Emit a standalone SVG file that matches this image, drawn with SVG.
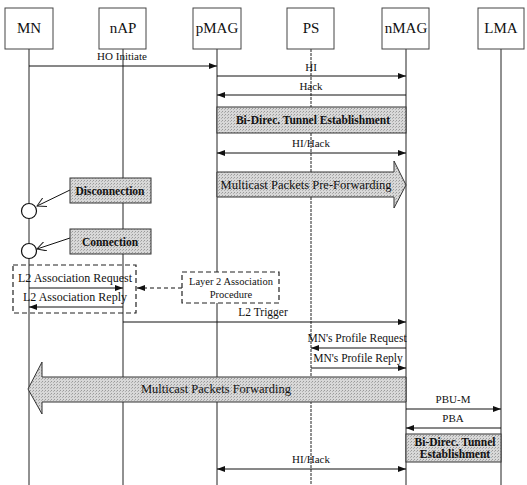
<svg xmlns="http://www.w3.org/2000/svg" width="527" height="485" viewBox="0 0 527 485">
<defs>
<marker id="ah" markerWidth="8" markerHeight="6" refX="8" refY="3" orient="auto" markerUnits="userSpaceOnUse">
<path d="M0,0 L8,3 L0,6 Z" fill="#111"/>
</marker>
<marker id="ahs" markerWidth="8" markerHeight="6" refX="0" refY="3" orient="auto" markerUnits="userSpaceOnUse">
<path d="M8,0 L0,3 L8,6 Z" fill="#111"/>
</marker>
<marker id="open" markerWidth="10" markerHeight="10" refX="9" refY="5" orient="auto" markerUnits="userSpaceOnUse">
<path d="M0,0 L9,5 L0,10" fill="none" stroke="#222" stroke-width="1"/>
</marker>
<pattern id="dots" width="3" height="3" patternUnits="userSpaceOnUse">
<rect width="3" height="3" fill="#d8d8d8"/>
<rect x="0" y="0" width="1" height="1" fill="#9a9a9a"/>
<rect x="2" y="1" width="1" height="1" fill="#b0b0b0"/>
</pattern>
</defs>
<style>
text{font-family:"Liberation Serif","Times New Roman",serif;fill:#111}
.hd{font-size:15px;text-anchor:middle}
.lb{font-size:11px;text-anchor:middle}
.bd{font-size:11.5px;text-anchor:middle;font-weight:bold}
.big{font-size:12.5px;text-anchor:middle}
.hbox{fill:#fff;stroke:#444;stroke-width:1}
.life{stroke:#222;stroke-width:1;fill:none}
.msg{stroke:#111;stroke-width:1;fill:none}
.gray{fill:url(#dots);stroke:#333;stroke-width:1}
.dash{fill:none;stroke:#222;stroke-width:1.2;stroke-dasharray:5,3}
</style>
<g id="lifelines">
<line class="life" x1="29" y1="49" x2="29" y2="485"/>
<line class="life" x1="123" y1="49" x2="123" y2="485"/>
<line class="life" x1="217" y1="49" x2="217" y2="485"/>
<line class="life" x1="311" y1="49" x2="311" y2="485" stroke-dasharray="3,1"/>
<line class="life" x1="406" y1="49" x2="406" y2="485"/>
<line class="life" x1="501" y1="49" x2="501" y2="485"/>
</g>
<g id="MN"><rect class="hbox" x="5" y="8" width="48" height="41"/><text class="hd" x="29" y="33">MN</text></g>
<g id="nAP"><rect class="hbox" x="99" y="8" width="47" height="41"/><text class="hd" x="123" y="33">nAP</text></g>
<g id="pMAG"><rect class="hbox" x="193" y="8" width="48" height="41"/><text class="hd" x="217" y="33">pMAG</text></g>
<g id="PS"><rect class="hbox" x="287" y="8" width="47" height="41"/><text class="hd" x="311" y="33">PS</text></g>
<g id="nMAG"><rect class="hbox" x="382" y="8" width="47" height="41"/><text class="hd" x="406" y="33">nMAG</text></g>
<g id="LMA"><rect class="hbox" x="478" y="8" width="46" height="41"/><text class="hd" x="501" y="33">LMA</text></g>

<g id="connectors">
<line class="msg" x1="29" y1="66" x2="217" y2="66" marker-end="url(#ah)"/>
<line class="msg" x1="217" y1="76" x2="406" y2="76" marker-end="url(#ah)"/>
<line class="msg" x1="406" y1="95" x2="217" y2="95" marker-end="url(#ah)"/>
<line class="msg" x1="217" y1="153" x2="406" y2="153" marker-start="url(#ahs)" marker-end="url(#ah)"/>
<line class="msg" x1="70" y1="190" x2="37" y2="206" marker-end="url(#open)"/>
<line class="msg" x1="70" y1="238" x2="37" y2="249" marker-end="url(#open)"/>
<line class="msg" x1="29" y1="288" x2="123" y2="288" marker-end="url(#ah)"/>
<line class="msg" x1="123" y1="307" x2="29" y2="307" marker-end="url(#ah)"/>
<line class="msg" x1="182" y1="288" x2="137" y2="288" stroke-dasharray="4,3" marker-end="url(#ah)"/>
<line class="msg" x1="123" y1="322" x2="406" y2="322" marker-end="url(#ah)"/>
<line class="msg" x1="406" y1="348" x2="311" y2="348" marker-end="url(#ah)"/>
<line class="msg" x1="311" y1="368" x2="406" y2="368" marker-end="url(#ah)"/>
<line class="msg" x1="406" y1="409" x2="501" y2="409" marker-end="url(#ah)"/>
<line class="msg" x1="501" y1="428" x2="406" y2="428" marker-end="url(#ah)"/>
<line class="msg" x1="217" y1="469" x2="406" y2="469" marker-start="url(#ahs)" marker-end="url(#ah)"/>
</g>

<g id="labels">
<text class="lb" x="122" y="60">HO Initiate</text>
<text class="lb" x="311" y="71">HI</text>
<text class="lb" x="311" y="90">Hack</text>
<text class="lb" x="311" y="147">HI/Hack</text>
<text class="lb" x="75" y="282" style="font-size:12px">L2 Association Request</text>
<text class="lb" x="75" y="301" style="font-size:12px">L2 Association Reply</text>
<text class="lb" x="263" y="316" style="font-size:11.5px">L2 Trigger</text>
<text class="lb" x="357" y="342" style="font-size:11.5px">MN's Profile Request</text>
<text class="lb" x="358" y="362" style="font-size:11.5px">MN's Profile Reply</text>
<text class="lb" x="453" y="403">PBU-M</text>
<text class="lb" x="453" y="422">PBA</text>
<text class="lb" x="311" y="463">HI/Hack</text>
</g>

<g id="tunnel1">
<rect class="gray" x="217" y="107" width="189" height="26"/>
<text class="bd" x="313" y="124">Bi-Direc. Tunnel Establishment</text>
</g>

<g id="preforward">
<path class="gray" d="M217,172 L394,172 L394,161 L406,185 L394,208 L394,197 L217,197 Z"/>
<text class="big" x="306" y="189">Multicast Packets Pre-Forwarding</text>
</g>

<g id="disconnection">
<rect class="gray" x="70" y="178" width="81" height="25"/>
<text class="bd" x="110" y="195">Disconnection</text>
<circle cx="29" cy="211" r="7.5" fill="#fff" stroke="#111" stroke-width="1.2"/>
</g>

<g id="connection">
<rect class="gray" x="70" y="229" width="81" height="25"/>
<text class="bd" x="110" y="246">Connection</text>
<circle cx="29" cy="251" r="7.5" fill="#fff" stroke="#111" stroke-width="1.2"/>
</g>

<g id="l2assoc">
<rect class="dash" x="13" y="265" width="123" height="48"/>
</g>

<g id="layer2proc">
<rect class="dash" x="182" y="272" width="97" height="31" style="fill:#fff"/>
<text class="lb" x="231" y="285" style="font-size:10.5px">Layer 2 Association</text>
<text class="lb" x="231" y="298" style="font-size:10.5px">Procedure</text>
</g>

<g id="forwarding">
<path class="gray" d="M406,377 L42,377 L42,362 L28,389 L42,414 L42,402 L406,402 Z"/>
<text class="big" x="216" y="393">Multicast Packets Forwarding</text>
</g>

<g id="tunnel2">
<rect class="gray" x="406" y="434" width="95" height="28"/>
<text class="lb" x="455" y="446" style="font-size:11.5px;font-weight:bold">Bi-Direc. Tunnel</text>
<text class="lb" x="455" y="458" style="font-size:11.5px;font-weight:bold">Establishment</text>
</g>
</svg>
